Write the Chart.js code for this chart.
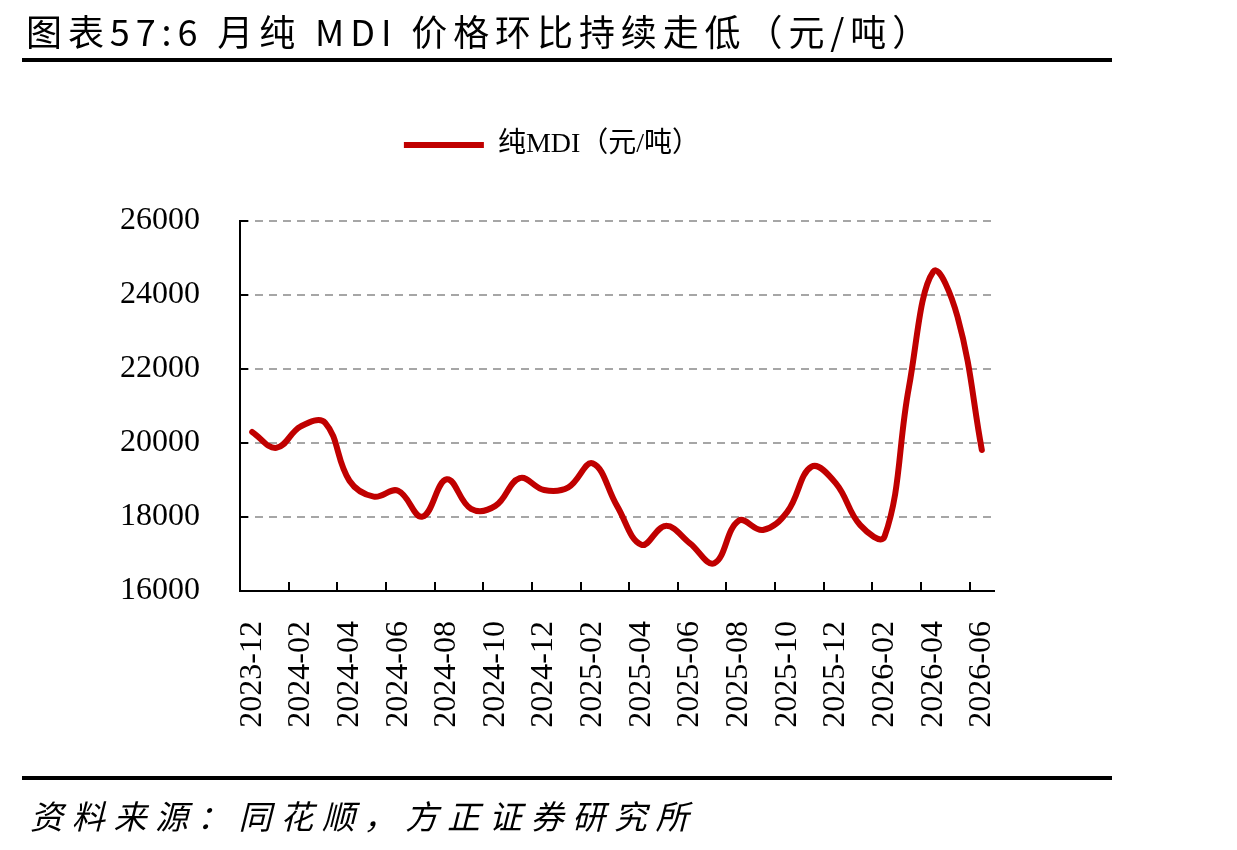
<!DOCTYPE html>
<html>
<head>
<meta charset="utf-8">
<script src="https://cdn.jsdelivr.net/npm/chart.js@4/dist/chart.umd.min.js"></script>
<style>
  body { margin: 0; background: #fff; }
  #wrap { position: relative; width: 1237px; height: 850px; overflow: hidden; }
  #myChart { position: absolute; left: 0; top: 0; }
  .title {
    position: absolute; left: 26px; top: 4px;
    font-family: "Noto Sans CJK SC", sans-serif; font-size: 36px;
    letter-spacing: 5.9px; color: #000; white-space: nowrap;
  }
  .rule { position: absolute; left: 22px; width: 1090px; height: 4px; background: #000; }
  .source {
    position: absolute; left: 30px; top: 791px;
    font-family: "Noto Sans CJK SC", sans-serif; font-size: 33px; font-style: italic;
    letter-spacing: 8.7px; color: #000; white-space: nowrap;
  }
</style>
</head>
<body>
<div id="wrap">
  <canvas id="myChart" width="1237" height="850"></canvas>
  <div class="title">图表57:6 月纯 MDI 价格环比持续走低（元/吨）</div>
  <div class="rule" style="top:58px"></div>
  <div class="rule" style="top:776px"></div>
  <div class="source">资料来源：同花顺，方正证券研究所</div>
</div>
<script>
const categories = [
  "2023-12", "2024-01", "2024-02", "2024-03", "2024-04", "2024-05", "2024-06",
  "2024-07", "2024-08", "2024-09", "2024-10", "2024-11", "2024-12", "2025-01",
  "2025-02", "2025-03", "2025-04", "2025-05", "2025-06", "2025-07", "2025-08",
  "2025-09", "2025-10", "2025-11", "2025-12", "2026-01", "2026-02", "2026-03",
  "2026-04", "2026-05", "2026-06",
];
const mdiPrice = [
  20300, 19870, 20450, 20550, 18980, 18550, 18710,
  18010, 19020, 18220, 18300, 19050, 18730, 18800,
  19450, 18300, 17250, 17760, 17290, 16750, 17900,
  17650, 18140, 19360, 18910, 17780, 17470, 21500,
  24630, 23410, 19810,
];
const yTicks = { min: 16000, max: 26000, step: 2000 };

// inside tick marks like the original (Excel style)
const innerTicks = {
  id: "innerTicks",
  afterDraw(chart) {
    const { ctx, chartArea, scales } = chart;
    const x = scales.x, y = scales.y;
    const half = (x.getPixelForValue(1) - x.getPixelForValue(0)) / 2;
    ctx.save();
    ctx.strokeStyle = "#000";
    ctx.lineWidth = 2;
    ctx.beginPath();
    for (let i = 0; i < categories.length; i += 2) {
      const px = Math.round(x.getPixelForValue(i) - half);
      ctx.moveTo(px, chartArea.bottom);
      ctx.lineTo(px, chartArea.bottom - 9);
    }
    for (let v = yTicks.min; v <= yTicks.max; v += yTicks.step) {
      const py = Math.round(y.getPixelForValue(v));
      ctx.moveTo(chartArea.left, py);
      ctx.lineTo(chartArea.left + 8, py);
    }
    ctx.stroke();
    ctx.restore();
  },
};

// extra room under the legend
const legendGap = {
  id: "legendGap",
  beforeInit(chart) {
    const fit = chart.legend.fit;
    chart.legend.fit = function () {
      fit.call(this);
      this.height += 52;
    };
  },
};

window.onload = function () {
  const ctx = document.getElementById("myChart").getContext("2d");

  new Chart(ctx, {
    type: "line",
    data: {
      labels: categories,
      datasets: [
        {
          label: "纯MDI（元/吨）",
          data: mdiPrice,
          borderColor: "#C00000",
          backgroundColor: "#C00000",
          borderWidth: 6,
          borderCapStyle: "round",
          borderJoinStyle: "round",
          pointRadius: 0,
          pointStyle: "line",
          tension: 0.4,
        },
      ],
    },
    options: {
      responsive: false,
      animation: false,
      layout: { padding: { left: 110, right: 243, top: 121, bottom: 0 } },
      plugins: {
        legend: {
          display: true,
          position: "top",
          labels: {
            usePointStyle: true,
            pointStyleWidth: 80,
            padding: 10,
            color: "#000",
            font: { size: 28, family: "'Liberation Serif', 'Noto Sans CJK SC'" },
          },
        },
        tooltip: { enabled: false },
      },
      scales: {
        x: {
          offset: true,
          grid: { display: false },
          border: { display: true, color: "#000", width: 2 },
          ticks: {
            autoSkip: false,
            maxRotation: 90,
            minRotation: 90,
            padding: 22,
            color: "#000",
            font: { size: 32, family: "'Liberation Serif'" },
            callback: (value, index) => (index % 2 === 0 ? categories[index] : ""),
          },
          afterFit: (scale) => { scale.height = 259; },
        },
        y: {
          min: yTicks.min,
          max: yTicks.max,
          grid: { color: "#A6A6A6", lineWidth: 2, drawTicks: false },
          border: { display: true, color: "#000", width: 2, dash: [8, 6] },
          ticks: {
            stepSize: yTicks.step,
            padding: 40,
            color: "#000",
            font: { size: 32, family: "'Liberation Serif'" },
            callback: (value) => String(value),
          },
          afterFit: (scale) => { scale.width = 130; },
        },
      },
    },
    plugins: [innerTicks, legendGap],
  });
};
</script>
</body>
</html>
